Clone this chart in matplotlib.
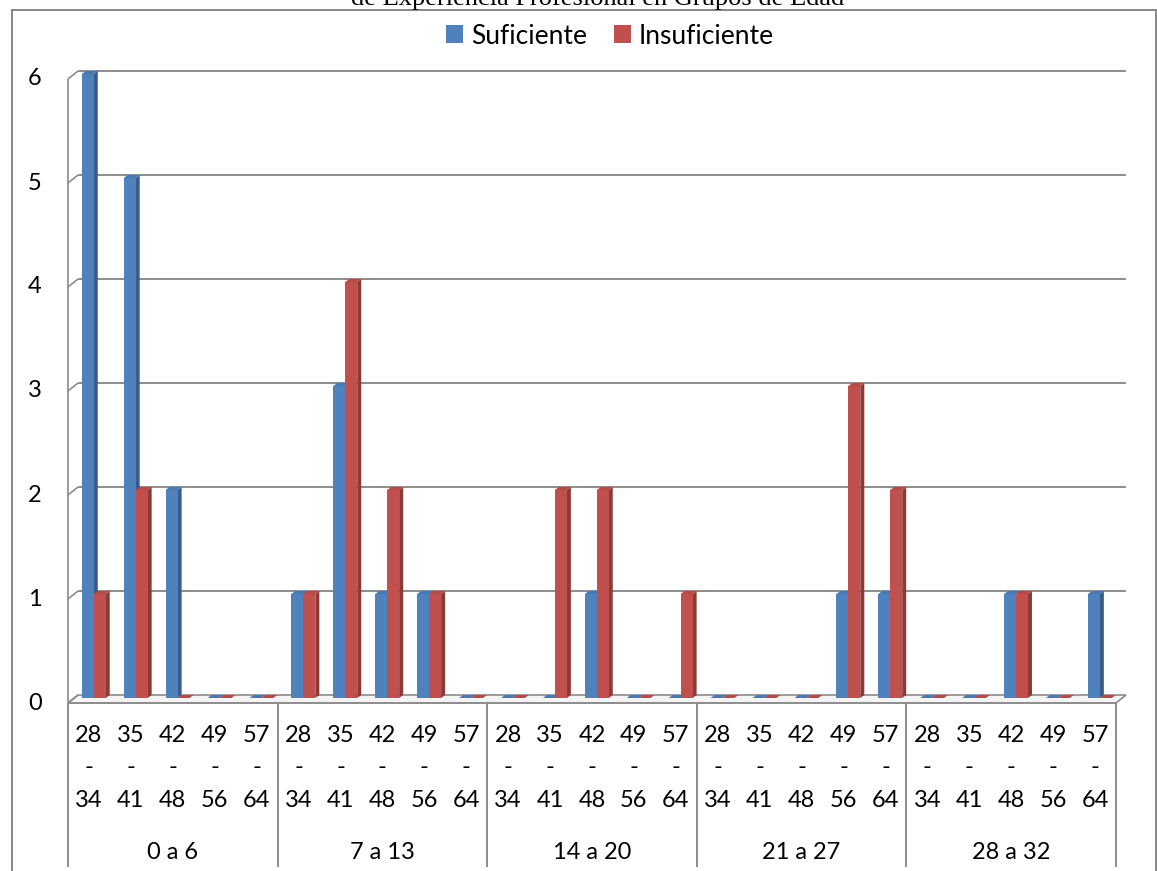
import matplotlib
matplotlib.use('Agg')
import matplotlib.pyplot as plt
from matplotlib.patches import Polygon, Rectangle, Patch
from matplotlib.transforms import IdentityTransform

plt.rcParams['font.family'] = ['Lato', 'DejaVu Sans']

# years of experience groups, each split by age range
groups = ['0 a 6', '7 a 13', '14 a 20', '21 a 27', '28 a 32']
age_lo = ['28', '35', '42', '49', '57']
age_hi = ['34', '41', '48', '56', '64']
suficiente = [6, 5, 2, 0, 0,
              1, 3, 1, 1, 0,
              0, 0, 1, 0, 0,
              0, 0, 0, 1, 1,
              0, 0, 1, 0, 1]
insuficiente = [1, 2, 0, 0, 0,
                1, 4, 2, 1, 0,
                0, 2, 2, 0, 1,
                0, 0, 0, 3, 2,
                0, 0, 1, 0, 0]
yticks = [0, 1, 2, 3, 4, 5, 6]

W, H = 1157, 871
fig = plt.figure(figsize=(W / 100, H / 100), dpi=100)
ncat = len(suficiente)
ax = fig.add_axes([68 / W, (H - 703) / H, 1048 / W, 624 / H])
ax.set_xlim(0, ncat)
ax.set_ylim(0, 6)
ax.set_axis_off()

grid_c = '#8C8C8C'
wall_dx, wall_dy = 10, 8
bar_dy = 5
dep_dx, dep_dy = 4, 3
idt = IdentityTransform()
fs = 17


def px(x, y):
    return ax.transData.transform((x, y))


def pline(p, q, **kw):
    ax.plot([p[0], q[0]], [p[1], q[1]], transform=idt, clip_on=False,
            solid_capstyle='butt', **kw)


# floor
f0, f1 = px(0, 0), px(ncat, 0)
ax.add_patch(Polygon([f0, f1, (f1[0] + wall_dx, f1[1] + wall_dy),
                      (f0[0] + wall_dx, f0[1] + wall_dy)],
                     closed=True, facecolor='#F4F4F4', edgecolor=grid_c,
                     lw=1.2, transform=idt, clip_on=False, zorder=1))

# back wall gridlines and the slanted ticks on the left wall
for v in yticks:
    a, b = px(0, v), px(ncat, v)
    if v > 0:
        pline((a[0] + wall_dx, a[1] + wall_dy), (b[0] + wall_dx, b[1] + wall_dy),
              color=grid_c, lw=1.4, zorder=1)
    pline(a, (a[0] + wall_dx, a[1] + wall_dy), color=grid_c, lw=1.2, zorder=1)
pline(px(0, 0), px(0, 6), color=grid_c, lw=1.2, zorder=1)

for v in yticks:
    y = px(0, v)[1]
    fig.text(35 / W, y / H, str(v), ha='center', va='center', fontsize=fs)


def bar3d(x0, x1, h, face, side, top):
    X0, B = px(x0, 0)
    X1, T = px(x1, h)
    B += bar_dy
    T += bar_dy
    ax.add_patch(Polygon([(X1, B), (X1 + dep_dx, B + dep_dy),
                          (X1 + dep_dx, T + dep_dy), (X1, T)],
                         closed=True, facecolor=side, edgecolor='none',
                         transform=idt, clip_on=False, zorder=3))
    if h > 0:
        ax.add_patch(Rectangle((X0, B), X1 - X0, T - B, facecolor=face,
                               edgecolor='none', transform=idt,
                               clip_on=False, zorder=3))
    ax.add_patch(Polygon([(X0, T), (X1, T), (X1 + dep_dx, T + dep_dy),
                          (X0 + dep_dx, T + dep_dy)],
                         closed=True, facecolor=top, edgecolor='none',
                         transform=idt, clip_on=False, zorder=3))


blue, blue_side, blue_top = '#4F81BD', '#385D8A', '#4A78B0'
red, red_side, red_top = '#C0504D', '#8C3A38', '#B34B48'
for i in range(ncat):
    bar3d(i + 0.33, i + 0.615, suficiente[i], blue, blue_side, blue_top)
    bar3d(i + 0.615, i + 0.90, insuficiente[i], red, red_side, red_top)

# category axis: two label rows and group separators
y0 = px(0, 0)[1]
pline(px(0, 0), px(ncat, 0), color=grid_c, lw=1.2, zorder=2)
for g in range(len(groups) + 1):
    x = px(g * 5, 0)[0]
    pline((x, y0), (x, H - 867), color=grid_c, lw=1.4, zorder=2)
for i in range(ncat):
    x = px(i + 0.5, 0)[0] / W
    fig.text(x, 1 - 735 / H, age_lo[i % 5], ha='center', va='center', fontsize=fs)
    fig.text(x, 1 - 767 / H, '-', ha='center', va='center', fontsize=fs)
    fig.text(x, 1 - 800 / H, age_hi[i % 5], ha='center', va='center', fontsize=fs)
for g, name in enumerate(groups):
    x = px(g * 5 + 2.5, 0)[0] / W
    fig.text(x, 1 - 852 / H, name, ha='center', va='center', fontsize=fs)

# chart border
fig.add_artist(Rectangle((12, -10), 1144, H - 10 + 10, facecolor='none',
                         edgecolor='#868686', lw=1.4, transform=idt))

fig.text(598 / W, 1 - 5 / H, 'de Experiencia Profesional en Grupos de Edad',
         ha='center', va='baseline', family='Liberation Serif', fontsize=19)

handles = [Patch(facecolor=blue, label='Suficiente'),
           Patch(facecolor=red, label='Insuficiente')]
fig.legend(handles=handles, loc='center', bbox_to_anchor=(610 / W, 1 - 36 / H),
           ncol=2, frameon=False, fontsize=19, handlelength=0.65,
           handleheight=0.65, handletextpad=0.3, columnspacing=1.0)

fig.savefig('out.png', dpi=100)
